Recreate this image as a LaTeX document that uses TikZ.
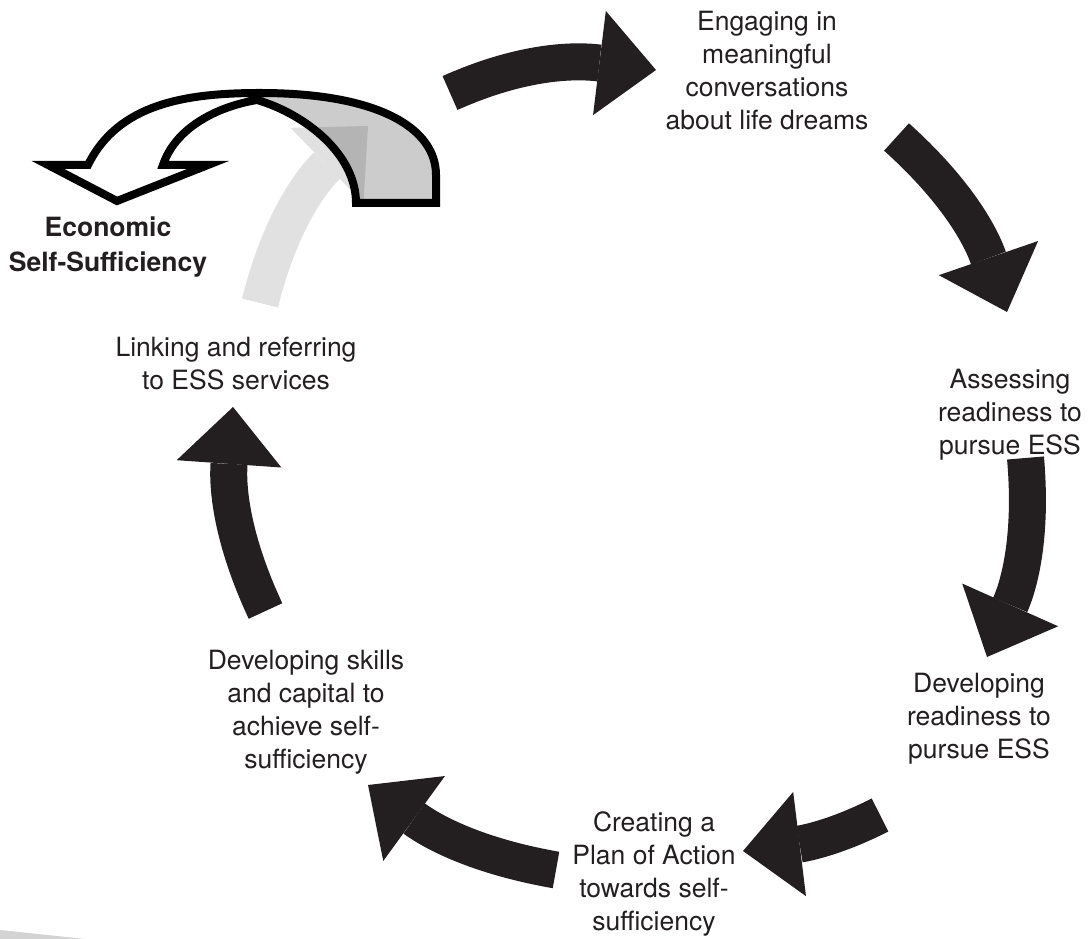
\documentclass[tikz,border=0pt]{standalone}
\usepackage{fontspec}
\setmainfont{TeX Gyre Heros}
\usetikzlibrary{arrows.meta}
\definecolor{inkblack}{HTML}{231F20}
\definecolor{mistgray}{HTML}{E1E1E1}
\definecolor{edgegray}{HTML}{D3D3D3}

\begin{document}
\begin{tikzpicture}[x=1pt, y=1pt, font=\fontsize{26.5}{33}\selectfont,
    stage/.style={align=center, text=inkblack, inner sep=0pt},
    ringarrow/.style={draw=inkblack, line width=37pt, -{Triangle[width=105pt, length=57pt, line width=0pt]}}]
  \useasboundingbox (0,0) rectangle (1089,939);
  \fill[edgegray] (0,0) -- (0,9) -- (85,0) -- cycle;

  % steps round the cycle
  \node[stage] (dreams) at (767,868) {Engaging in\\meaningful\\conversations\\about life dreams};
  \node[stage] (assess) at (1010,524) {Assessing\\readiness to\\pursue ESS};
  \node[stage] (readiness) at (979,220) {Developing\\readiness to\\pursue ESS};
  \node[stage] (plan) at (654,65) {Creating a\\Plan of Action\\towards self-\\sufficiency};
  \node[stage] (skills) at (306,227) {Developing skills\\and capital to\\achieve self-\\sufficiency};
  \node[stage] (linking) at (236,575) {Linking and referring\\to ESS services};
  \node[stage, font=\fontsize{26.5}{35}\selectfont\bfseries] (ess) at (108,692) {Economic\\Self-Sufficiency};

  % arrow ends
  \coordinate (s0) at (260,636);    \coordinate (e0) at (368,813);
  \coordinate (s1) at (450,846);    \coordinate (e1) at (656,869);
  \coordinate (s2) at (896.5,802);  \coordinate (e2) at (1007,627);
  \coordinate (s3) at (1025.5,481); \coordinate (e3) at (987,282);
  \coordinate (s4) at (880,124);    \coordinate (e4) at (743,88);
  \coordinate (s5) at (556,69);     \coordinate (e5) at (368,154);
  \coordinate (s6) at (265.5,328);  \coordinate (e6) at (233,532);

  % faded arrow leading up into the jump
  \draw[ringarrow, draw=mistgray] (s0) to[out=76,in=224] (e0);

  % the jump out of the cycle: white front, grey back, black rim
  \fill[white] (88,774) .. controls (118,835) and (185,846) .. (260,846) -- (257,839)
    .. controls (215,832) and (175,810) .. (163,774) -- (208,774) -- (117,738) -- (48,774) -- cycle;
  \fill[black, fill opacity=0.2] (260,846) .. controls (380,846) and (436,810) .. (436,764)
    -- (436,736) -- (356,736) .. controls (356,785) and (305,825) .. (257,839) -- cycle;
  \draw[line width=8pt, line join=miter] (88,774) .. controls (118,835) and (185,846) .. (260,846)
    .. controls (380,846) and (436,810) .. (436,764) -- (436,736) -- (356,736)
    .. controls (356,785) and (305,825) .. (257,839)
    .. controls (215,832) and (175,810) .. (163,774)
    -- (208,774) -- (117,738) -- (48,774) -- cycle;

  \foreach \i/\o/\n in {1/24/173, 2/-42/109, 3/-85/66, 4/207/7, 5/170/-36, 6/115/-94}
    \draw[ringarrow] (s\i) to[out=\o,in=\n] (e\i);
\end{tikzpicture}
\end{document}
